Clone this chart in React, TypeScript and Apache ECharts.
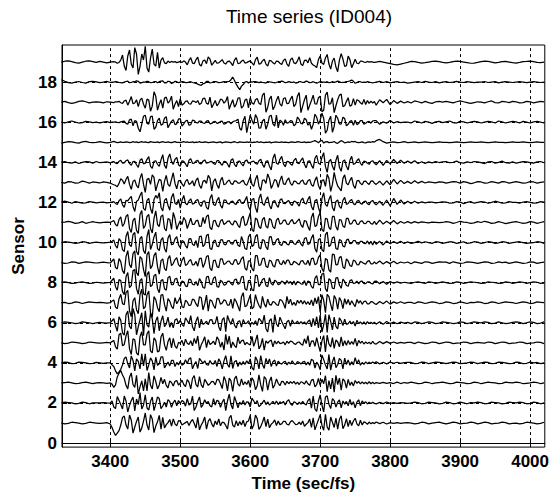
import React, { useEffect, useRef } from "react";
import * as echarts from "echarts";

// sample times (sec/fs): coarse before/after the event, finer during it
const times = [
  3330, 3335, 3340, 3345, 3350, 3355, 3360, 3365, 3370, 3375, 3380, 3385, 3390, 3395,
  3400, 3402.5, 3405, 3407.5, 3410, 3412.5, 3415, 3417.5, 3420, 3422.5, 3425, 3427.5, 3430, 3432.5, 3435, 3437.5, 3440, 3442.5, 3445, 3447.5,
  3450, 3452.5, 3455, 3457.5, 3460, 3462.5, 3465, 3467.5, 3470, 3472.5, 3475, 3477.5, 3480, 3482.5, 3485, 3487.5, 3490, 3492.5, 3495, 3497.5,
  3500, 3502.5, 3505, 3507.5, 3510, 3512.5, 3515, 3517.5, 3520, 3522.5, 3525, 3527.5, 3530, 3532.5, 3535, 3537.5, 3540, 3542.5, 3545, 3547.5,
  3550, 3552.5, 3555, 3557.5, 3560, 3562.5, 3565, 3567.5, 3570, 3572.5, 3575, 3577.5, 3580, 3582.5, 3585, 3587.5, 3590, 3592.5, 3595, 3597.5,
  3600, 3602.5, 3605, 3607.5, 3610, 3612.5, 3615, 3617.5, 3620, 3622.5, 3625, 3627.5, 3630, 3632.5, 3635, 3637.5, 3640, 3642.5, 3645, 3647.5,
  3650, 3652.5, 3655, 3657.5, 3660, 3662.5, 3665, 3667.5, 3670, 3672.5, 3675, 3677.5, 3680, 3682.5, 3685, 3687.5, 3690, 3692.5, 3695, 3697.5,
  3700, 3702.5, 3705, 3707.5, 3710, 3712.5, 3715, 3717.5, 3720, 3722.5, 3725, 3727.5, 3730, 3732.5, 3735, 3737.5, 3740, 3742.5, 3745, 3747.5,
  3750, 3752.5, 3755, 3757.5, 3760, 3762.5, 3765, 3767.5, 3770, 3772.5, 3775, 3777.5,
  3780, 3785, 3790, 3795, 3800, 3805, 3810, 3815, 3820, 3825,
  3830, 3835, 3840, 3845, 3850, 3855, 3860, 3865, 3870, 3875,
  3880, 3885, 3890, 3895, 3900, 3905, 3910, 3915, 3920, 3925,
  3930, 3935, 3940, 3945, 3950, 3955, 3960, 3965, 3970, 3975,
  3980, 3985, 3990, 3995, 4000, 4005, 4010, 4015, 4020,
];

// deviations from each sensor's baseline, in hundredths of the sensor spacing
const s19 = [
  0, 4, 6, 2, -3, -5, 0, 4, 6, 2, -2, 3, 0, -4,
  0, 1, 2, 0, -6, -2, 10, 35, -20, -42, 30, 60, -10, -30, 72, 40, -62, -20, 40, 10,
  78, -30, -50, 20, 65, -10, -20, 48, -30, 10, 22, -4, -8, 5, -2, 3, 0, 2, -3, 0,
  3, -2, 6, 0, -14, 8, 22, -5, -8, 12, 24, -12, -20, 6, 10, -8, 26, 15, -16, -4,
  8, -6, -4, 4, 12, -5, -10, 2, 5, -4, -18, 10, 22, -8, -6, 4, 10, -5, -3, 2,
  6, -4, -16, 12, 24, -10, -8, 6, 14, -10, -20, 8, 6, -4, -10, 5, 3, -6, -12, 8,
  16, -10, -22, 12, 20, -4, -8, 6, 26, -10, -18, 8, 10, -4, 22, -6, -15, -20, -28, 12,
  30, -5, -12, 20, 38, -10, -35, 5, 20, -25, -48, 10, 42, 15, -22, -18, 30, 12, -28, -8,
  14, -6, -8, 4, 4, 0, -2, 3, 0, 2, 0, -2,
  0, 3, 0, -4, -8, -12, -14, -10, -6, -2,
  3, 2, -2, -5, -3, 0, 3, 5, 2, -2,
  -4, -2, 2, 5, 3, 0, -3, -6, -5, -2,
  2, 5, 3, 0, -4, -2, 2, 3, 0, -3,
  -5, -2, 2, 3, 5, 2, -2, -3, 0,
];
const s18 = [
  12, 4, -3, -5, 0, 3, -2, -5, 2, 4, 1, -3, 0, 4,
  -2, 0, 0, 2, 1, -2, -3, -4, 0, 3, 5, -3, -2, 2, 1, 6, 4, -5, -3, 0,
  0, 4, 2, -3, -2, 2, 3, -3, 2, 5, 6, -4, -4, 4, 3, -7, -3, 4, 2, -3,
  0, 2, 1, -2, -2, 0, 2, -2, -4, -6, -10, -14, -16, -8, -6, 3, 3, -4, -2, 2,
  2, 1, -3, -2, 0, 2, 1, 2, 3, 12, 25, 8, -10, -25, -38, -20, -12, 0, 3, -4,
  2, 0, 2, 3, 0, -3, 2, -2, -3, -5, 3, 1, 0, -2, -4, -2, 2, 3, 5, 2,
  -3, -1, 2, 0, -2, 1, -5, -3, 3, 2, -2, 0, 5, 2, -3, -1, 2, -2, -6, -2,
  3, 1, 0, -1, 2, -3, -2, 3, -1, 1, 5, 2, -2, -1, 0, 2, 3, 6, 10, 4,
  -6, -2, 3, 2, -2, 0, -1, 2, 0, -2, -4, -2,
  0, 4, -2, 2, -4, 0, 2, -2, 0, -5,
  -3, 0, 2, -2, 4, 0, -2, 2, -4, 0,
  2, -2, 0, 4, 0, -2, 2, 0, -3, 0,
  0, 3, -2, 0, 2, -4, 0, 2, 0, -2,
  0, 2, 0, -3, 0, 2, 0, -2, 0,
];
const s17 = [
  0, 4, -2, -6, -2, 4, 6, 2, -4, 0, 2, 0, -4, 2,
  0, -1, -2, 2, 1, 4, -3, -6, 6, 10, -15, 5, 28, -8, -4, 12, -22, 10, 20, -10,
  -30, 15, 10, -45, -20, 52, 30, -40, -10, 12, -30, 20, 25, -5, 5, 30, -35, -10, 8, -22,
  18, -15, -8, 4, 6, -8, -10, 6, 4, -2, 8, -12, -6, 18, 20, -6, -10, 25, -28, -10,
  8, -18, -6, 15, 12, -5, 5, 28, -35, -10, 12, -25, -10, 20, 22, -30, -20, 10, 15, -28,
  22, -4, -10, 12, 18, -6, -12, 35, 45, -50, -25, 15, 30, -38, -20, 10, 30, -8, -20, 18,
  22, -8, -6, 15, 30, -22, -10, 30, 48, -52, -20, 12, 35, -40, -15, 8, 35, -8, -10, 22,
  30, -48, -40, 35, 50, -10, -8, 22, -52, -18, 12, 35, 40, -22, -18, 4, 22, -20, -15, 18,
  -15, 12, 8, -3, -10, 14, -12, 8, -6, 5, -4, 3,
  -15, 12, -3, 14, -12, 8, -6, 5, -4, 3,
  -4, 6, 2, -4, 4, -2, -6, 2, 4, 0,
  4, 0, -4, 2, 6, 2, -2, -6, -2, 2,
  0, -4, 2, 6, -2, -4, 4, 2, -2, 4,
  2, -4, -2, 4, 2, -4, 0, 4, 2,
];
const s16 = [
  0, -4, 2, 6, 0, -4, -2, 4, 2, -2, 0, -3, 0, 3,
  -2, 0, 1, 2, -1, -2, 2, 4, 5, -6, -10, 12, 15, -18, 8, 4, -30, -48, -10, 30,
  35, -6, -10, 28, 30, -35, -25, 8, 20, -15, -10, 20, 28, -28, -10, 4, 12, -12, -8, 15,
  18, -20, -8, 6, 10, -15, -12, 10, 8, -2, -4, 6, 5, -4, -6, 5, 8, -8, -6, 2,
  4, -6, -3, 4, 5, -10, -6, 2, 3, -8, 2, 6, 8, 15, -30, -40, 8, 30, -52, -10,
  35, 10, -10, 38, 20, -30, -28, 6, 15, -35, -10, 30, 35, -8, -20, 35, -28, 10, 4, -15,
  12, -5, -2, 8, 6, -18, -10, 25, 14, -6, -8, 20, 12, -15, -4, -35, -10, 40, 25, -10,
  10, 45, 20, -55, -40, 10, 30, -50, -20, 35, 20, -8, -10, 25, 18, -18, -10, 4, 8, -15,
  10, -12, -6, 8, 8, -10, -5, 2, 4, -5, 6, 8,
  8, -10, 2, -5, 8, -4, 3, -2, 1, 0,
  -4, 6, 2, -4, 4, 0, -6, 2, 4, -2,
  2, 6, -2, -4, 4, 2, -4, 0, 4, 2,
  -4, 0, 4, 2, -4, 6, 2, -4, 0, 4,
  2, -4, 4, 0, -4, 2, 4, 0, -4,
];
const s15 = [
  -4, 0, 3, 2, -2, -4, 2, 4, 0, -2, 0, 3, 0, -3,
  0, 2, 4, 1, -2, 0, 2, -1, 0, 2, 1, -2, -1, 3, 0, 2, -2, 1, 3, 0,
  2, 0, -2, 3, 1, -1, 0, 2, -2, 1, 3, 0, -1, 2, 0, -2, 1, 3, -1, 0,
  -2, 1, 3, 0, 2, -1, 0, 2, -2, 1, 0, 3, -1, 0, 2, 1, -2, 0, 1, 2,
  0, -2, 1, 2, -3, 0, 2, 1, 0, -2, 1, 3, 0, -2, 2, 1, 0, -1, 2, 0,
  2, -2, 1, 0, 3, -1, 2, 0, -2, 1, 0, 2, -3, 0, 1, 2, -1, 0, 2, -1,
  1, 0, -2, 1, 2, 0, -1, 3, 2, -1, 0, 2, -2, 1, 0, 2, 5, 8, 4, -2,
  6, 10, -4, 2, 3, -2, -1, 0, 4, -3, -5, 2, 8, 4, -3, -1, 2, 0, 4, 2,
  4, -1, -2, 0, 2, -2, -3, 1, 2, 0, 3, 1,
  8, 14, 3, -4, 0, 2, -2, 0, 3, -2,
  0, 2, -2, 0, 2, 0, -2, 0, 2, 0,
  0, -2, 0, 2, 0, -2, 0, 2, 0, 0,
  2, 0, -2, 0, 2, 0, 0, -2, 0, 2,
  0, 0, 2, 0, -2, 0, 2, 0, 0,
];
const s14 = [
  0, 4, -2, -4, 2, -6, 0, 4, 2, -4, 4, -2, 0, 2,
  -3, 2, 4, -4, -6, 5, 10, -4, -3, 8, 12, -6, -15, 4, 5, -12, -25, 10, 18, -8,
  -4, 15, 28, -20, -30, 5, 8, -10, -20, 12, 38, -15, -30, 20, 42, 5, -10, 15, 25, -12,
  -20, 8, 5, -8, -22, 10, 18, -5, -4, 6, 10, -5, -8, 6, 12, -4, -2, 3, 5, -6,
  -10, 8, 8, -6, -15, 5, 4, -8, -25, 10, 18, -10, -22, 5, 6, -8, -18, 6, 12, -4,
  -2, 4, 6, -5, -10, 8, 15, -10, -25, 5, 8, -20, -38, 20, 42, -5, -10, 15, 30, -8,
  -22, 5, 4, -8, -15, 10, 20, -4, -6, 10, 22, -10, -28, 5, 8, -15, -30, 20, 35, -5,
  -10, 25, 48, -20, -50, 5, 15, -20, -40, 10, 35, -25, -45, 5, 12, -20, -38, 10, 30, -10,
  -6, 8, 18, -5, -15, 6, 4, -5, -10, 4, 8, -4,
  -12, 8, -15, 10, -8, 14, -6, 10, -5, 6,
  -4, 8, -6, 3, -5, 2, -3, 4, -1, 2,
  4, -2, 0, 6, -2, -4, 2, -2, 4, 2,
  -2, -6, 2, 4, -4, 0, 6, -2, -4, 2,
  -4, 0, 4, 2, -2, -4, 2, 4, -2,
];
const s13 = [
  0, -4, 4, 2, -4, -2, 6, 2, -4, 2, 0, -3, 2, 0,
  -4, -8, -12, -15, -22, -5, 18, 10, -8, 15, 30, -10, -35, 5, 12, -15, -28, 20, 45, -10,
  -50, 15, 20, -10, 38, 25, -42, -10, 15, 10, -45, 5, 35, -10, -20, 15, 48, -5, -32, 8,
  10, -8, -20, 5, 15, -10, -5, 8, -18, 10, 22, -15, -30, 5, 10, -5, 35, 20, -42, 5,
  18, -12, -30, 10, 25, -12, -8, 5, 12, -6, -10, 8, 6, -4, -4, 5, 10, -8, -15, 6,
  28, -10, -20, 15, 35, -20, -40, 10, 12, -5, 42, 20, -30, -10, 15, 8, -25, 10, 32, -8,
  -10, 10, 22, -5, -15, 6, 5, -5, -8, 6, 12, -8, -10, 8, 15, -12, -20, 10, 28, -15,
  -35, 10, 12, -20, 40, 20, -45, -10, 50, 10, -18, -30, -42, 20, 38, -5, -12, 10, 25, -15,
  -30, 8, 10, -5, -12, 5, 6, -4, -10, 6, 8, -4,
  -10, 6, -14, 8, -12, 15, -8, 10, -6, 5,
  -6, 8, -4, 5, -3, 2, 0, -2, 3, 1,
  -4, 0, 4, 2, -4, 4, 0, -6, -2, 4,
  2, -4, -2, 4, 0, -4, 4, 2, -4, 0,
  4, 0, -4, -2, 4, 2, -4, 0, 2,
];
const s12 = [
  2, 6, 2, -4, 4, 0, -4, -2, 4, 2, -2, 0, 2, -2,
  0, 2, 4, -5, -10, 8, 18, -12, -25, 10, 8, 20, 30, -20, -45, 5, 12, 35, 52, -30,
  -40, 10, 20, -30, -55, 15, 35, 20, 48, -25, -42, 10, 20, -15, -38, 25, 45, -5, -10, 15,
  -28, 10, 35, -5, -12, 8, 18, -8, -5, 10, 15, -10, -20, 5, 8, -25, -35, 20, 40, -10,
  -15, 10, 25, -15, -28, 12, 12, -5, -8, 4, 6, -6, -10, 8, 15, -4, -5, 10, 30, -20,
  -38, 15, 20, -25, -50, 20, 42, -5, -15, 12, 28, -15, -32, 5, 10, -12, -25, 12, 18, -5,
  -6, 4, 10, -8, -15, 6, 4, -6, -18, 10, 22, -4, -8, 15, 30, -20, -38, 8, 15, -25,
  -52, 20, 48, -10, -20, 15, 35, -25, -42, 5, 12, -20, -30, 10, 25, -10, -5, 8, 15, -6,
  -12, 6, 10, -5, -8, 4, 6, -6, -12, 5, 10, -4,
  -12, 6, -14, 12, -18, 20, -10, 12, -8, 6,
  -5, 6, -4, 3, -2, 1, 2, -2, 0, 3,
  2, -4, -2, 4, 2, -6, 0, 4, -4, 0,
  4, 2, -4, 0, 6, 2, -4, -2, 4, 0,
  0, -4, 2, 4, 0, -4, -2, 4, 2,
];
const s11 = [
  0, 2, 6, 2, -4, -2, 4, -4, 0, 4, 0, -2, 0, 2,
  0, 5, 10, -10, -18, 15, 28, -20, -5, 30, 40, -30, -50, 10, 22, -40, -55, 40, 60, -30,
  -15, 30, 40, -30, -52, 20, 58, -10, -20, 30, 38, -30, -42, 20, 15, -35, 50, 20, -35, -10,
  8, -10, 25, 10, -30, -5, 22, -10, -10, 8, 12, -20, -18, 25, -5, 30, 38, -25, -35, 8,
  10, -15, -22, 8, 15, -10, -4, 6, 8, -6, -12, 8, 4, -14, -25, 20, 32, -15, -10, 20,
  48, -35, -45, 22, 15, -20, -30, 15, 25, -18, -28, 20, 12, -22, -30, 12, 22, -8, -5, 10,
  12, -8, -10, 6, 15, -6, -3, 8, 18, -12, -25, 10, 6, -20, -40, 25, 48, -20, -15, 30,
  50, -35, -45, 20, 18, -25, -35, 30, 30, -20, -38, 15, 12, -18, -25, 20, 20, -8, -6, 10,
  12, -8, -10, 6, 8, -4, -6, 5, 5, -6, -8, 6,
  -10, 12, -8, 6, -6, 10, -7, 5, -4, 4,
  -3, 4, -2, 3, 0, -2, 2, 1, -1, 0,
  4, 2, -4, 0, 6, 2, 0, -4, -2, 4,
  0, 6, 2, -4, -2, 4, 0, -6, -2, 2,
  4, 0, -4, -2, 4, 2, -4, 0, 4,
];
const s10 = [
  0, 4, 2, 0, -4, -2, 4, 2, -4, 0, 2, 0, -2, 0,
  2, 6, 12, -15, -28, 20, 8, -35, -45, 30, 55, -10, -20, 40, 50, -45, -62, 20, 30, -40,
  -55, 30, 65, -35, -10, 28, 52, -30, -40, 12, 25, -30, -48, 22, 40, -10, -8, 18, 30, -12,
  -25, 10, 5, -15, -28, 18, 20, -8, -15, 10, -25, 30, 32, -20, -10, 35, 42, -30, -35, 6,
  12, -18, -20, 12, 15, -8, -12, 8, 10, -6, -8, 10, 12, -14, -20, 30, 5, -30, -35, 28,
  42, -20, -12, 30, 40, -25, -32, 15, 10, -22, -35, 28, 30, -12, -8, 14, 20, -10, -15, 6,
  4, -8, -12, 10, 8, -6, -10, 6, 12, -8, -18, 20, 25, -10, -5, 22, 40, -30, -48, 15,
  20, -36, -45, 40, 52, -20, -12, 24, 28, -30, -35, 15, 10, -18, -22, 12, 18, -6, -4, 10,
  10, -6, -8, 6, 6, -4, -5, 8, -8, 6, -12, 8,
  -8, 6, -12, 8, -6, 5, -4, 6, -5, 3,
  -4, 0, 6, -2, 4, 0, -4, 4, 2, -4,
  0, 4, 2, -4, 0, 4, -4, -2, 4, 2,
  -4, 0, 4, 2, -4, -2, 4, 2, -4, 0,
  2, 4, 0, -4, -2, 0, 4, 2, -4,
];
const s9 = [
  0, -4, -2, 4, 2, -4, 0, 4, 2, 0, -2, 0, 2, 0,
  -2, 8, 18, -25, -32, 20, 5, -40, -55, 30, 60, -10, -25, 45, 58, -50, -65, 30, 20, -35,
  -70, 40, 55, -30, -15, 35, 50, -20, -58, 10, 18, -30, -40, 20, 35, -15, -5, 15, 25, -10,
  -20, 12, 28, -14, -8, 8, 15, -12, -10, 6, -18, 20, 22, -24, -5, 30, 35, -28, -40, 10,
  12, -20, -25, 18, 18, -10, -4, 6, 8, -6, -10, 12, 15, -10, -2, 20, 30, -28, -38, 8,
  10, -30, -42, 35, 35, -14, -12, 20, 22, -18, -25, 12, 8, -16, -22, 14, 15, -6, -10, 10,
  -8, 12, 12, -10, -10, 6, 2, -6, -12, 8, 10, -6, -8, 12, -15, 20, 22, -10, -6, 26,
  38, -30, -45, 20, 15, -36, -48, 42, 40, -12, -10, 26, 30, -22, -30, 18, 8, -14, -20, 12,
  8, -10, -12, 6, 2, -4, -8, 6, 10, -6, -6, 4,
  -6, 8, -7, 5, -5, 7, -6, 3, -2, 3,
  -6, 4, 0, -4, 4, 2, -4, 0, 4, 2,
  2, -4, 4, 0, -4, -2, 4, 2, 0, -4,
  0, 4, 2, -4, -2, 4, 0, 2, -4, 0,
  4, 0, -4, -2, 4, 2, -4, 0, 2,
];
const s8 = [
  2, 4, 0, -4, -2, 2, 4, 0, -4, -2, 2, 0, -2, 0,
  1, 12, 22, -20, -38, 15, 10, -45, -60, 30, 50, -25, -15, 60, 65, -30, -58, 10, 20, -55,
  -62, 40, 55, -20, -12, 35, 42, -30, -50, 10, 15, -30, -38, 25, 32, -10, -10, 18, 22, -12,
  -18, 8, 4, -16, -20, 18, 15, -8, -12, 6, -15, 20, 5, -24, -28, 28, 32, -6, -10, 22,
  30, -20, -22, 12, 5, -12, -10, 6, 8, -4, -12, 14, 18, -8, -4, 28, 32, -30, -38, 10,
  12, -36, -40, 38, 35, -20, -6, 16, 22, -14, -20, 25, -4, -12, 12, 6, -10, -6, 8, 2,
  -8, 10, -4, 6, -10, 8, -12, 6, 2, -6, -8, 10, -14, 8, 4, -20, -28, 22, 35, -10,
  -10, 42, 48, -30, -45, 20, 12, -28, -30, 24, 25, -12, -28, 18, 6, -14, -18, 10, 14, -4,
  -2, 8, -6, 6, 8, -5, -5, 4, 4, -3, -7, 6,
  8, -5, 6, -8, 6, -3, 4, -2, 2, -1,
  -4, 2, 4, 0, -4, 4, 2, -4, 0, 4,
  0, -4, -2, 4, 2, -4, 0, 4, 2, 0,
  -4, -2, 4, 2, 0, -4, -2, 4, 2, -4,
  0, 4, 2, -4, 0, 4, 2, -4, -2,
];
const s7 = [
  0, 2, -4, -2, 4, 2, -4, 0, 4, 2, 0, 2, 0, -2,
  0, 8, 14, -22, -30, 20, 42, -5, -10, 50, 62, -40, -70, 10, 25, -35, -55, 40, 68, -30,
  -20, 40, 58, -50, -72, 30, 15, -25, -45, 38, 40, -10, -42, 20, 8, -18, -30, 25, -5, 10,
  28, -20, -25, 12, 4, -14, -12, 18, 14, -6, -20, 30, 25, -36, -6, 38, -42, 14, 10, -14,
  -28, 22, 20, -8, -2, 14, 10, -12, -12, 18, -28, 20, 6, -18, -42, 30, 50, -20, -15, 12,
  38, -30, -22, 40, 8, -14, -28, 32, -6, -22, 18, -8, -12, 6, 2, -10, -14, 16, 12, -4,
  -28, 32, -6, 18, -12, 2, -14, 12, -3, 12, -6, 10, -8, 5, -10, 14, -16, 24, -5, 30,
  -48, 40, 12, -50, 42, 30, -8, -40, 36, 18, -32, 26, 8, -30, 20, -8, 16, -12, 10, -6,
  -20, 16, -2, 10, -8, 6, 8, -6, -6, 5, 4, -4,
  -9, 6, -5, 8, -7, 4, -3, 5, -3, 2,
  2, -4, 4, 2, -4, 0, 4, 2, -4, -2,
  4, 2, -4, -2, 4, 0, -4, 2, 0, 4,
  2, -4, -2, 4, 2, -4, 0, 4, 2, 0,
  -4, 0, 4, 2, -4, -2, 4, 2, 0,
];
const s6 = [
  0, 4, 2, 0, -4, -2, 4, 2, 0, -4, 0, 2, 0, -2,
  1, 10, 20, -15, -42, 30, 12, -50, -62, 40, 58, -18, -30, 72, 40, -60, -20, 15, 50, -65,
  60, -10, -22, 48, 20, -55, 10, 30, -40, 8, 35, -20, -6, 28, -22, 2, -25, 14, 20, -4,
  12, -8, -18, 24, 10, -4, 36, -20, -40, 8, 30, -26, 18, -8, -2, 8, -10, 14, 16, -6,
  -2, 32, -20, -40, 14, 26, -44, 36, 10, -8, 22, -12, -26, 6, 10, -22, 16, -4, -2, 10,
  -12, 2, -8, 10, -14, 22, 12, -4, 38, -30, -46, 10, 20, -48, 40, -6, -20, 28, 6, -12,
  -30, 5, 12, -18, 14, -4, -2, 8, -6, 6, -5, 4, -8, 6, 14, -20, 22, -14, 30, -26,
  38, -46, -10, 42, -48, 40, 6, -36, 28, -18, -30, 24, 10, -14, 18, -8, -4, 8, -6, 6,
  -16, 12, -5, 4, -7, 5, -8, 6, -4, 3, -5, 3,
  -7, 5, -8, 6, -4, 3, -5, 3, -2, 2,
  -4, 4, 2, -4, 0, 4, 2, -4, -2, 4,
  2, 0, -4, -2, 4, 2, -4, 0, 4, 2,
  0, 4, 2, -4, -2, 4, 0, -4, -2, 2,
  4, 2, -4, 0, 4, 2, -4, -2, 4,
];
const s5 = [
  0, -4, -2, 4, 2, 0, -4, -2, 4, 2, 0, -2, 0, 2,
  0, 6, 12, -20, -32, 40, 48, -15, -8, 35, 60, -30, -58, 20, 15, -50, -62, 30, 55, -10,
  -10, 45, 60, -40, -50, 25, 12, -45, -40, 30, 48, -10, -38, 6, 25, -25, 22, -15, -28, 2,
  -2, 12, -15, 18, -2, -8, 10, -15, 22, -4, 34, -38, -10, 8, 30, -24, 16, -8, -2, 8,
  -10, 30, 14, -22, 4, -36, 42, -8, 34, -26, 4, -14, -24, 28, -4, 10, 14, -10, 2, -6,
  -10, 32, -18, 8, 40, -30, -14, 22, -36, 10, -2, 8, 14, -20, 10, -6, 8, -4, -2, 4,
  -10, 8, -2, 8, 6, -4, -8, 2, 4, -6, -12, 20, -4, 36, -20, 8, 10, -18, 26, -12,
  -44, 10, 36, -46, 38, -6, -20, 26, -28, 14, 4, -20, 30, -16, 10, -12, 12, -8, 6, -8,
  22, -16, 12, -2, 8, -6, 5, -4, 3, -6, 7, -4,
  -6, 7, -4, 6, -3, 4, -3, 2, -2, 2,
  2, -4, 4, 0, -4, -2, 4, 2, -4, 0,
  4, 2, -4, -2, 0, 4, 2, -4, 0, 2,
  0, -2, 4, 2, -4, 0, 4, 2, -4, -2,
  0, 4, 2, -4, -2, 0, 4, 2, -4,
];
const s4 = [
  0, 4, 2, -4, -2, 4, 2, 0, -4, -2, 2, 0, -2, 0,
  0, -10, -18, -40, -55, -45, -32, -10, 22, 30, -5, -25, 35, 12, -40, 20, 8, -30, 45, -15,
  45, -38, -10, 25, 10, -35, 28, -12, -4, 30, 30, -25, -10, 4, -15, 12, 12, -18, 2, -10,
  8, -12, -6, 15, -4, 20, 25, -30, -8, 6, -28, 22, 10, -2, 10, -8, -12, 12, -4, -6,
  12, -18, 20, 4, -30, 10, 36, -8, -22, 35, -28, 6, 12, -18, 4, -10, 6, -8, 10, -4,
  20, -24, -36, 30, 12, -30, 36, -8, -28, 22, -4, 20, -18, 6, 14, -16, 8, -2, -6, 4,
  8, -10, 4, -6, 10, -4, -8, 6, 2, -6, 4, 8, -10, 4, -12, 18, 12, -26, 4, -10,
  -34, 40, 16, -10, -30, 42, -36, 6, 30, -24, -8, 22, 12, -30, 24, -8, 15, -12, 6, -10,
  26, -4, 15, -12, 2, -7, 5, -4, 3, -3, 4, -2,
  6, -5, 3, -5, 4, -2, 3, -2, 1, 2,
  2, -4, -2, 4, 2, -4, 0, 4, 2, 0,
  -4, 0, 4, 2, -4, -2, 0, 4, 2, -4,
  0, 4, 2, -4, -2, 4, 2, 0, -4, -2,
  4, 2, -4, -2, 4, 0, 2, -4, 0,
];
const s3 = [
  0, 2, 4, 0, -4, -2, 2, 4, 0, -4, 0, 2, 0, -2,
  0, -6, -22, -10, 30, 48, 62, 40, 22, -12, -30, 28, 50, -8, -22, 38, -55, -20, 10, -40,
  20, -40, 52, -12, -30, 35, 8, -30, -10, 28, -4, 18, -12, -25, 10, 2, -15, 8, 12, -10,
  -2, 14, -8, -18, 16, 4, -30, 22, 36, -8, -20, 32, -10, -24, 18, 4, -12, -4, 8, 6,
  -10, 18, 16, -4, -28, 32, 10, -40, 24, 10, -42, 20, 34, -6, -16, 20, -10, 6, -8, 12,
  -22, 26, 10, -34, -14, 40, -10, -42, 32, 20, -36, 8, 30, -26, -10, 20, -2, -14, 8, 6,
  -10, 8, -4, 6, -2, 8, -6, 4, -8, 6, 2, -6, 10, -4, -12, 14, 18, -20, -8, 22,
  -12, 18, -4, 36, -44, 12, -30, 24, -46, 38, -8, 24, -36, 20, 10, -26, 18, -12, 4, -15,
  12, -2, 7, -5, 5, -4, 3, -5, 6, -4, 3, -4,
  2, -2, 3, -2, 1, -3, 4, -3, 2, -1,
  4, 0, -4, -2, 4, 2, -4, 0, 2, 4,
  0, -4, -2, 4, 2, 0, -4, -2, 4, 2,
  -4, 0, 4, 2, 0, -4, -2, 4, 2, 0,
  4, 2, -4, -2, 0, 4, 2, -4, 0,
];
const s2 = [
  0, 4, 2, 0, -4, -2, 4, 2, -4, 0, 0, 0, 2, 0,
  -1, 10, -20, -28, 32, 12, -8, -30, 35, 10, -45, -12, 12, 30, -40, 20, -8, 52, -30, -10,
  40, -25, -35, 8, 30, -38, -5, 30, 22, -28, -15, 4, -20, 16, 8, -22, 2, 14, -14, 12,
  -2, 12, 6, -16, 22, -10, -4, 34, -38, -20, 8, 30, -22, -8, 16, -2, 8, -14, -20, 22,
  -10, 14, 8, -22, 4, 20, -38, 10, 44, -8, -30, 32, 6, -24, 4, -8, 12, -10, 6, 4,
  -20, 24, 10, -4, 12, -18, -10, 2, 14, -8, 6, -10, -2, 8, -6, 10, -8, 6, -2, 8,
  -10, 8, 16, -4, -12, 6, 2, -8, 4, -6, 8, -4, -10, 12, 22, -26, 34, -30, -42, 10,
  40, -10, -44, 30, 36, -6, -28, 22, 12, -20, 4, 16, -24, 10, -6, 8, -14, 18, -10, 6,
  -24, 4, 16, -14, 10, -2, 6, -5, 4, -3, 3, -2,
  -5, 3, -3, 5, -2, 2, -2, 2, 1, -2,
  0, 4, 2, -4, -2, 4, 2, 0, -4, -2,
  4, 2, -4, -2, 4, 0, -4, 2, 0, 4,
  2, -4, -2, 4, 2, 0, -4, -2, 4, 2,
  0, 4, 2, -4, -2, 4, 2, -4, 0,
];
const s1 = [
  0, -4, -2, 4, 2, 0, -4, -2, 4, 2, 0, -2, 0, 2,
  -5, -22, -45, -62, -50, -38, -10, 28, 35, -10, -30, 40, 15, -50, -20, 8, 30, -45, -25, 10,
  50, -10, -35, 42, 20, -48, -15, 6, 38, -30, 28, -24, -8, 2, 18, -15, 20, -4, -14, 12,
  10, -10, -4, 2, 8, -12, 6, 18, -2, -25, 28, -34, -10, 6, 30, -30, 8, 22, -4, -20,
  10, -8, 20, -14, 4, 2, -12, -30, 25, 38, -10, -20, 12, -14, 8, -10, 14, -18, 6, 10,
  38, -30, -10, 40, 22, -32, -18, 4, 30, -18, 20, -24, -6, 2, 16, -12, 10, -8, -4, 8,
  8, -6, -10, 6, 12, 2, -8, -6, 4, -8, 10, -16, -6, 2, 20, -22, 26, -34, -8, 16,
  42, -12, -36, 44, -20, -36, 30, 4, -22, 24, -30, 18, 36, -28, -10, 22, -18, 14, -12, 10,
  24, -4, -14, 14, -10, 6, 2, -6, 5, -4, 3, -3,
  5, -3, 4, -5, 2, -2, 2, -2, 1, 2,
  0, -4, -2, 4, 2, -4, 0, 2, 4, 0,
  -4, 0, 4, 2, -4, -2, 0, 4, 2, -4,
  0, 4, 2, -4, -2, 0, 4, 2, -4, -2,
  0, -4, -2, 4, 2, 0, -4, -2, 4,
];

const sensorIds = [1, 2, 3, 4, 5, 6, 7, 8, 9, 10, 11, 12, 13, 14, 15, 16, 17, 18, 19];
const traces = [s1, s2, s3, s4, s5, s6, s7, s8, s9, s10, s11, s12, s13, s14, s15, s16, s17, s18, s19];

const xTicks = [3400, 3500, 3600, 3700, 3800, 3900, 4000];
const yTicks = [0, 2, 4, 6, 8, 10, 12, 14, 16, 18];

const FONT = "'Liberation Sans', Arial, sans-serif";

export default function App() {
  const ref = useRef<HTMLDivElement>(null);

  useEffect(() => {
    if (!ref.current) return;
    const chart = echarts.init(ref.current, null, { renderer: "svg" });

    const series: any[] = traces.map((arr, k) => ({
      type: "line",
      name: "Sensor " + sensorIds[k],
      data: times
        .map((t, i) => (arr[i] === undefined ? null : [t, sensorIds[k] + arr[i] / 100]))
        .filter((p) => p !== null),
      showSymbol: false,
      symbol: "none",
      lineStyle: { color: "#000", width: 1.25 },
      z: 3,
    }));

    series.push({
      type: "line",
      data: [],
      markLine: {
        silent: true,
        symbol: ["none", "none"],
        label: { show: false },
        lineStyle: { color: "#000", type: [3, 3], width: 1 },
        data: [
          ...yTicks.map((v) => ({ yAxis: v })),
          ...xTicks.map((v) => ({ xAxis: v })),
        ],
      },
      z: 2,
    });

    const labelStyle = {
      fontFamily: FONT,
      fontSize: 17,
      fontWeight: "bold" as const,
      color: "#000",
    };

    chart.setOption({
      animation: false,
      backgroundColor: "#fff",
      title: {
        text: "Time series (ID004)",
        left: 304,
        textAlign: "center",
        top: 2,
        textStyle: { fontFamily: FONT, fontSize: 19, fontWeight: "normal", color: "#000" },
      },
      grid: {
        left: 62,
        right: 7,
        top: 45,
        bottom: 40,
        show: true,
        borderColor: "#000",
        borderWidth: 1,
        backgroundColor: "transparent",
      },
      xAxis: {
        type: "value",
        min: 3331,
        max: 4021,
        name: "Time (sec/fs)",
        nameLocation: "middle",
        nameGap: 27,
        nameTextStyle: { ...labelStyle },
        axisLine: { show: true, lineStyle: { color: "#000" } },
        axisTick: { show: true, inside: true, length: 5, customValues: xTicks, lineStyle: { color: "#000" } },
        axisLabel: {
          ...labelStyle,
          customValues: xTicks,
          margin: 6,
          formatter: (v: number) => String(v),
        },
        splitLine: { show: false },
      },
      yAxis: {
        type: "value",
        min: -0.2,
        max: 19.85,
        name: "Sensor",
        nameLocation: "middle",
        nameGap: 35,
        nameRotate: 90,
        nameTextStyle: { ...labelStyle },
        axisLine: { show: true, lineStyle: { color: "#000" } },
        axisTick: { show: true, inside: true, length: 5, customValues: yTicks, lineStyle: { color: "#000" } },
        axisLabel: {
          ...labelStyle,
          customValues: yTicks,
          margin: 5,
          formatter: (v: number) => String(v),
        },
        splitLine: { show: false },
      },
      series,
    });

    return () => chart.dispose();
  }, []);

  return (
    <div
      ref={ref}
      style={{ position: "absolute", left: 0, top: 0, width: 552, height: 497 }}
    />
  );
}
